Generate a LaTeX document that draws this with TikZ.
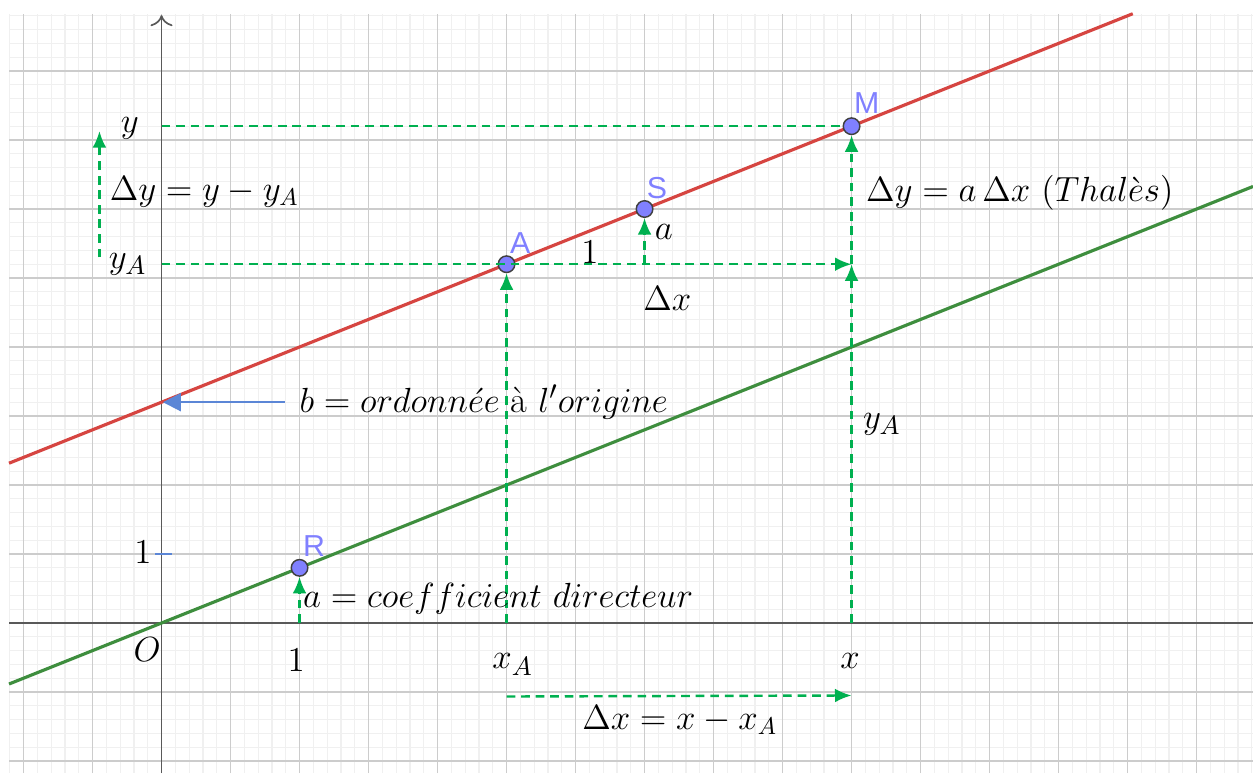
\documentclass[tikz,border=0pt]{standalone}
\usepackage{fontspec}
\newfontfamily\ptfont{Liberation Sans}
\usepackage{xcolor}
\definecolor{redline}{HTML}{D64541}
\definecolor{greenline}{HTML}{3E8E3E}
\definecolor{dashgreen}{HTML}{00B050}
\definecolor{ptblue}{HTML}{8080FF}
\definecolor{arrblue}{HTML}{5B86D6}
\usepackage{amsmath,tikz}
\usetikzlibrary{arrows.meta}

\begin{document}
\begin{tikzpicture}[
    minorgrid/.style={draw=gray!12, line width=0.5pt},
    majorgrid/.style={draw=gray!40, line width=0.7pt},
    axis/.style={draw=black!65, line width=0.7pt},
    pt/.style={circle, draw=black!75, fill=ptblue, line width=0.6pt, inner sep=0pt, minimum size=2.4mm},
    ptlbl/.style={text=ptblue, font=\ptfont\fontsize{12.5pt}{14pt}\selectfont},
    lbl/.style={font=\fontsize{15pt}{18pt}\selectfont, inner sep=1pt},
    gdash/.style={draw=dashgreen, line width=1pt, dash pattern=on 3.6pt off 2.4pt},
    darr/.style={gdash, -{Latex[length=2.4mm, width=2mm]}},
    x=1cm, y=1cm
]
\useasboundingbox (-2.341,-2.174) rectangle (15.818,9.029);

% Grid
\draw[minorgrid] (-2.21,-2.174) grid[step=0.2] (15.818,8.83);
\draw[majorgrid] (-2.21,-2.174) grid[step=1] (15.818,8.83);

% Axes
\draw[axis] (-2.21,0) -- (15.818,0);
\draw[axis, -{To[length=1.6mm, width=3.2mm]}] (0,-2.174) -- (0,8.81);
\draw[draw=arrblue, line width=0.8pt] (-0.09,1) -- (0.15,1);

% Lines
\draw[draw=redline, line width=1.3pt] (-2.21,2.316) -- (14.075,8.83);
\draw[draw=greenline, line width=1.3pt] (-2.21,-0.884) -- (15.818,6.327);

% Points
\node[pt] (R) at (2,0.8) {};
\node[pt] (A) at (5,5.2) {};
\node[pt] (S) at (7,6) {};
\node[pt] (M) at (10,7.2) {};
\node[ptlbl] (lR) at (2.21,1.12) {R};
\node[ptlbl] (lA) at (5.20,5.50) {A};
\node[ptlbl] (lS) at (7.18,6.30) {S};
\node[ptlbl] (lM) at (10.22,7.53) {M};

% Feet of the projections
\coordinate (oy) at (0,7.2);
\coordinate (oyA) at (0,5.2);
\coordinate (fR) at (2,0);
\coordinate (fA) at (5,0);
\coordinate (fx) at (10,0);
\coordinate (mid) at (10,5.2);
\coordinate (fS) at (7,5.2);
\coordinate (dyl) at (-0.9,5.3);
\coordinate (dyh) at (-0.9,7.13);
\coordinate (dxl) at (5,-1.065);
\coordinate (dxr) at (10,-1.05);
\coordinate (bstart) at (1.79,3.2);
\coordinate (bend) at (0.02,3.2);

% Dashed projections
\draw[gdash] (oy) -- (M);
\draw[darr] (oyA) -- (mid);
\draw[darr] (fA) -- (A);
\draw[darr] (fx) -- (mid);
\draw[darr] (mid) -- (M);
\draw[darr] (fS) -- (S);
\draw[darr] (fR) -- (R);
\draw[darr] (dyl) -- (dyh);
\draw[darr] (dxl) -- (dxr);
\draw[draw=arrblue, line width=0.8pt, -{Triangle[length=2.6mm, width=2.6mm]}] (bstart) -- (bend);

% Labels
\node[lbl] (ly) at (-0.46,7.17) {$y$};
\node[lbl, font=\fontsize{14.3pt}{17pt}\selectfont] (ldy) at (0.62,6.25) {$\Delta y = y - y_A$};
\node[lbl] (lyA) at (-0.49,5.20) {$y_A$};
\node[lbl] (lone) at (6.21,5.38) {$1$};
\node[lbl] (la) at (7.28,5.67) {$a$};
\node[lbl] (ldx) at (7.33,4.70) {$\Delta x$};
\node[lbl, anchor=west, font=\fontsize{14pt}{17pt}\selectfont] (lth) at (10.17,6.23) {$\Delta y = a\,\Delta x\ (Thal\grave{e}s)$};
\node[lbl] (lb) at (4.67,3.20) {$b = ordonn\acute{e}e\ \text{à}\ l'origine$};
\node[lbl] (lyA2) at (10.44,2.88) {$y_A$};
\node[lbl] (ly1) at (-0.27,1.03) {$1$};
\node[lbl] (lcoef) at (4.88,0.35) {$a = coefficient\ directeur$};
\node[lbl] (lO) at (-0.21,-0.39) {$O$};
\node[lbl] (lx1) at (1.95,-0.54) {$1$};
\node[lbl] (lxA) at (5.09,-0.60) {$x_A$};
\node[lbl] (lx) at (9.98,-0.55) {$x$};
\node[lbl, font=\fontsize{14.3pt}{17pt}\selectfont] (ldx2) at (7.51,-1.41) {$\Delta x = x - x_A$};

\end{tikzpicture}
\end{document}
